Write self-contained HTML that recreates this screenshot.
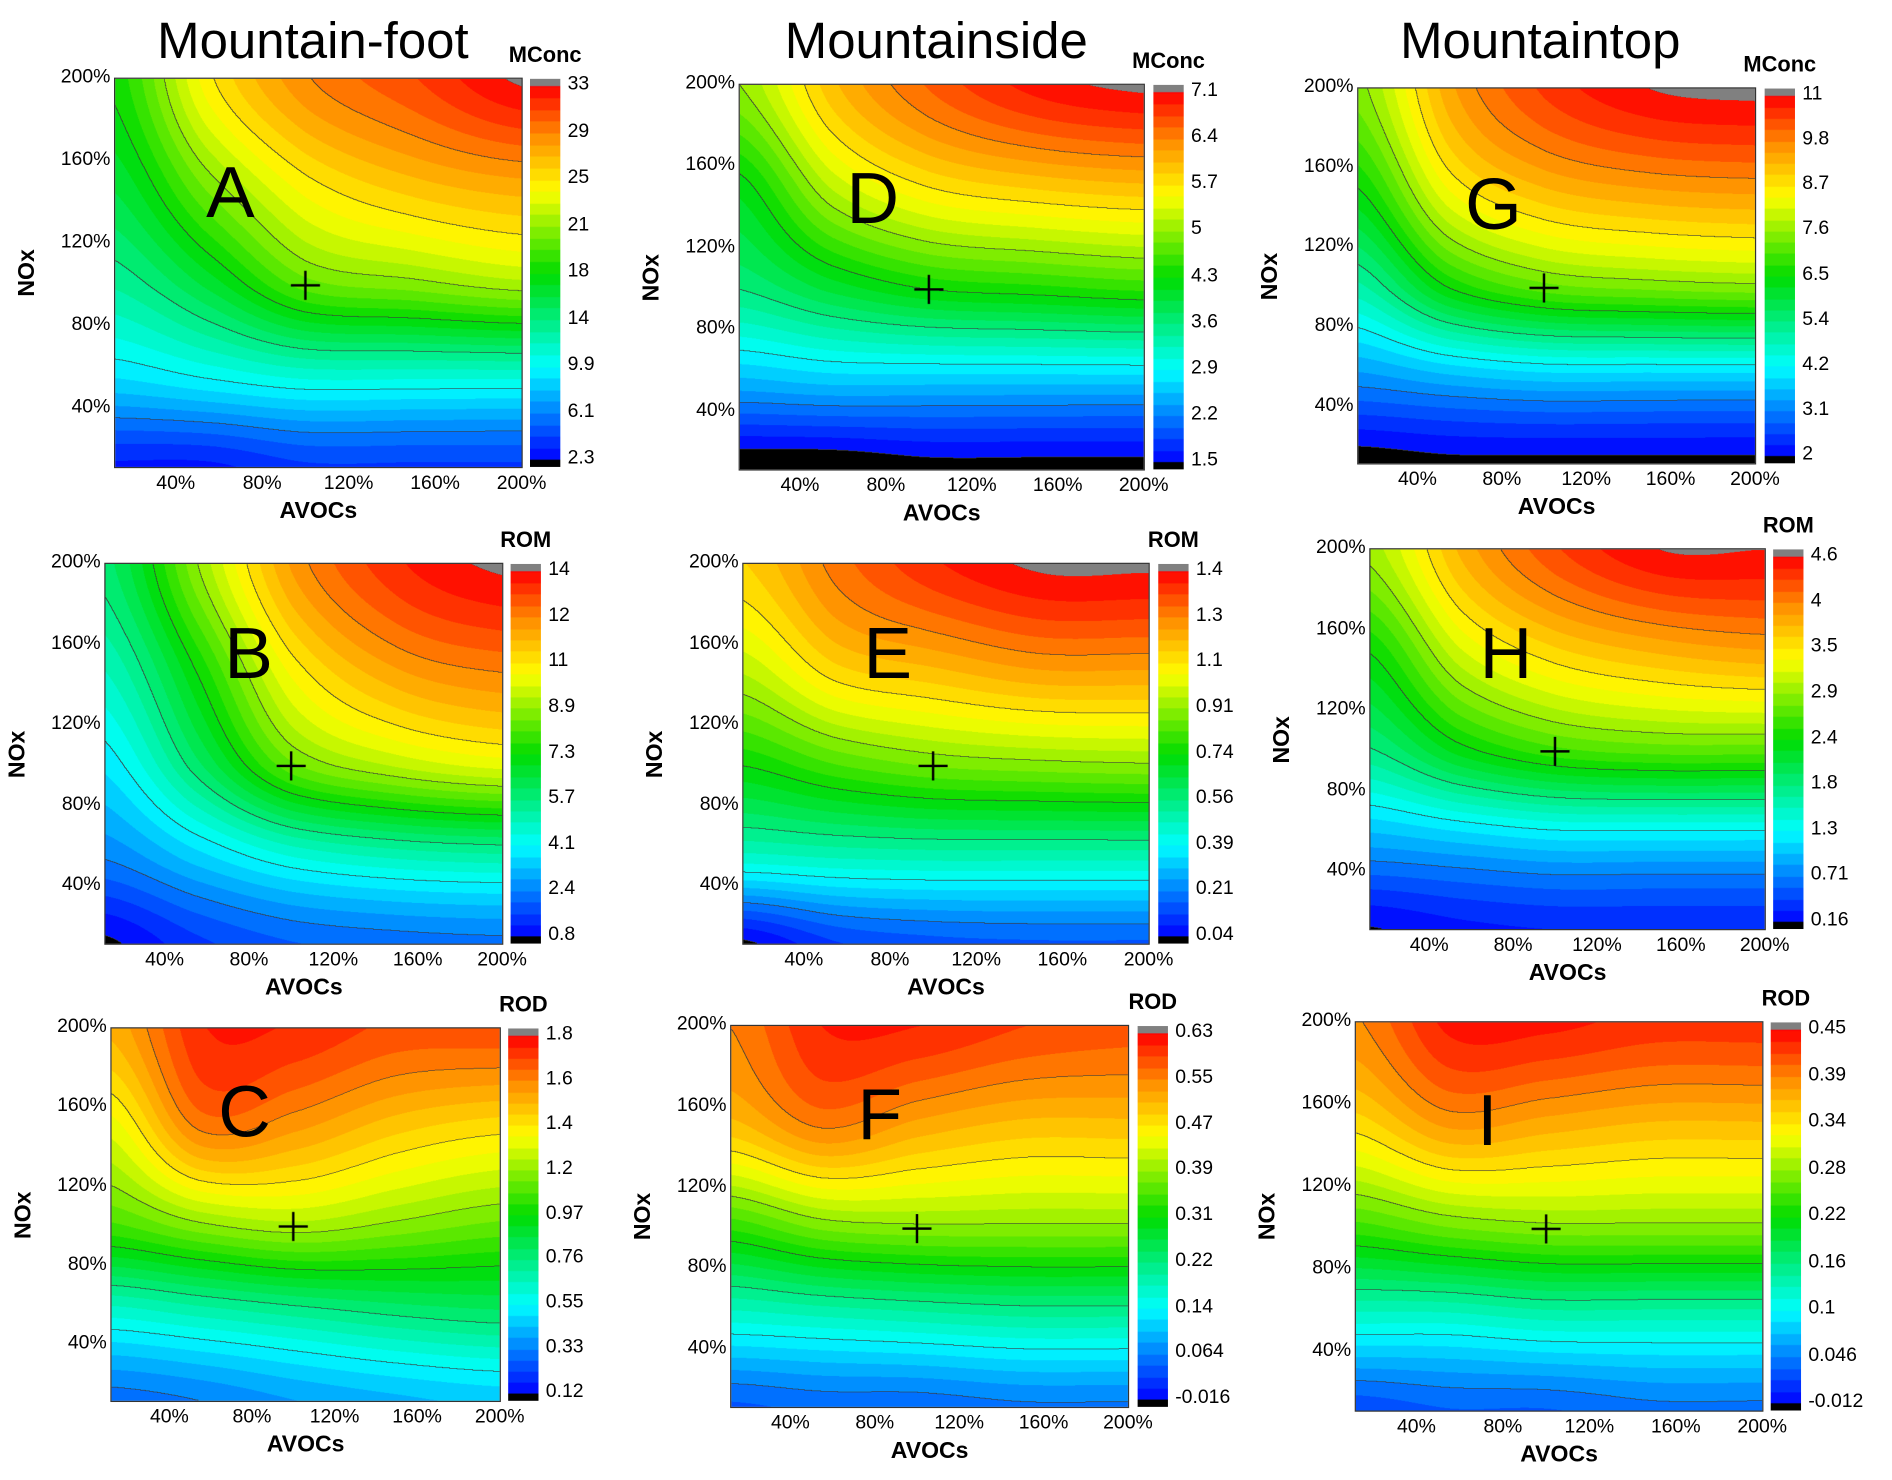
<!DOCTYPE html>
<html><head><meta charset="utf-8">
<style>
html,body{margin:0;padding:0;background:#fff;overflow:hidden;width:1892px;height:1479px}
#root{position:absolute;left:0;top:0;width:1560px;height:1220px;transform:scale(1.21282);transform-origin:0 0;font-family:"Liberation Sans",Arial,sans-serif}
.t{position:absolute;white-space:nowrap;color:#000}
canvas{position:absolute}
</style></head>
<body><div id="root"></div>
<script>
// grid coordinates (% of base emissions)
const gridX=[12,55,100,150,200];
const gridY=[12,55,100,150,200];
const xTicks=["40%","80%","120%","160%","200%"];
const xTickVals=[40,80,120,160,200];
const yTicks=["40%","80%","120%","160%","200%"];
// values rows: y=12,55,100,150,200 ; cols: x=12..200
const valsA=[[3,3,4,4,4],[9,10,11,11,11],[13,16,20,21,22],[16,21,25,27,28],[18,25,29,31,33.2]];
const valsD=[[1.3,1.3,1.4,1.4,1.4],[2.5,2.6,2.6,2.6,2.6],[3.6,4.0,4.3,4.4,4.5],[4.2,5.2,5.7,5.9,6.0],[5.0,6.0,6.6,7.0,7.15]];
const valsG=[[1.8,1.9,1.9,1.9,1.9],[3.3,3.6,3.8,3.8,3.8],[5,6.5,7.2,7.4,7.5],[6.5,8.5,9.3,9.6,9.7],[7.5,9.5,10.5,11,11.1]];
const valsB=[[0.7,1.5,2,2.2,2.3],[2.5,3.5,4.5,5,5.2],[3.8,6,8.5,9.5,10],[5,7.5,10.5,12,12.5],[6,9,12,13.5,14.1]];
const valsE=[[0.03,0.12,0.15,0.16,0.16],[0.45,0.47,0.48,0.48,0.48],[0.72,0.8,0.85,0.87,0.88],[0.95,1.1,1.15,1.2,1.2],[1.1,1.25,1.35,1.41,1.41]];
const valsH=[[0.15,0.25,0.3,0.3,0.3],[0.9,1.0,1.1,1.1,1.1],[1.8,2.3,2.6,2.7,2.7],[2.4,3.2,3.6,3.8,3.9],[3.0,3.8,4.3,4.6,4.6]];
const valsC=[[0.3,0.33,0.38,0.42,0.45],[0.6,0.65,0.7,0.75,0.78],[1.05,1.15,1.2,1.15,1.1],[1.3,1.6,1.55,1.45,1.4],[1.5,1.74,1.74,1.68,1.68]];
const valsF=[[0.04,0.05,0.05,0.06,0.06],[0.17,0.18,0.19,0.2,0.2],[0.33,0.37,0.38,0.38,0.38],[0.5,0.55,0.52,0.5,0.5],[0.55,0.61,0.61,0.59,0.58]];
const valsI=[[0.02,0.03,0.03,0.04,0.04],[0.12,0.12,0.13,0.13,0.13],[0.24,0.26,0.27,0.27,0.27],[0.34,0.38,0.37,0.36,0.36],[0.39,0.44,0.44,0.43,0.43]];
const cbA=["2.3","6.1","9.9","14","18","21","25","29","33"];
const cbD=["1.5","2.2","2.9","3.6","4.3","5","5.7","6.4","7.1"];
const cbG=["2","3.1","4.2","5.4","6.5","7.6","8.7","9.8","11"];
const cbB=["0.8","2.4","4.1","5.7","7.3","8.9","11","12","14"];
const cbE=["0.04","0.21","0.39","0.56","0.74","0.91","1.1","1.3","1.4"];
const cbH=["0.16","0.71","1.3","1.8","2.4","2.9","3.5","4","4.6"];
const cbC=["0.12","0.33","0.55","0.76","0.97","1.2","1.4","1.6","1.8"];
const cbF=["-0.016","0.064","0.14","0.22","0.31","0.39","0.47","0.55","0.63"];
const cbI=["-0.012","0.046","0.1","0.16","0.22","0.28","0.34","0.39","0.45"];

const panels=[
 {id:"a",x1:95,y1:65,x2:430,y2:385,cb:437,vals:valsA,cbl:cbA,min:2.3,max:33,var:"MConc",letter:"A",lx:170,ly:160},
 {id:"d",x1:610,y1:70,x2:943,y2:387,cb:951,vals:valsD,cbl:cbD,min:1.5,max:7.1,var:"MConc",letter:"D",lx:698,ly:165},
 {id:"g",x1:1120,y1:73,x2:1447,y2:382,cb:1455,vals:valsG,cbl:cbG,min:2,max:11,var:"MConc",letter:"G",lx:1208,ly:170},
 {id:"b",x1:87,y1:465,x2:414,y2:778,cb:421,vals:valsB,cbl:cbB,min:0.8,max:14,var:"ROM",letter:"B",lx:185,ly:540},
 {id:"e",x1:613,y1:465,x2:947,y2:778,cb:955,vals:valsE,cbl:cbE,min:0.04,max:1.4,var:"ROM",letter:"E",lx:712,ly:540},
 {id:"h",x1:1130,y1:453,x2:1455,y2:766,cb:1462,vals:valsH,cbl:cbH,min:0.16,max:4.6,var:"ROM",letter:"H",lx:1220,ly:540},
 {id:"c",x1:92,y1:848,x2:412,y2:1155,cb:419,vals:valsC,cbl:cbC,min:0.12,max:1.8,var:"ROD",letter:"C",lx:180,ly:918},
 {id:"f",x1:603,y1:846,x2:930,y2:1160,cb:938,vals:valsF,cbl:cbF,min:-0.016,max:0.63,var:"ROD",letter:"F",lx:707,ly:920},
 {id:"i",x1:1118,y1:843,x2:1453,y2:1163,cb:1460,vals:valsI,cbl:cbI,min:-0.012,max:0.45,var:"ROD",letter:"I",lx:1218,ly:925}
];
const titles=[["Mountain-foot",258],["Mountainside",772],["Mountaintop",1270]];
const root=document.getElementById('root');
function txt(s,x,y,size,opts){const d=document.createElement('div');d.className='t';d.textContent=s;d.style.left=x+'px';d.style.top=y+'px';d.style.fontSize=size+'px';if(opts){for(const k in opts)d.style[k]=opts[k];}root.appendChild(d);return d;}
function cmap(t){const st=[[0,0,0,255],[0.25,0,255,255],[0.5,0,220,0],[0.72,255,255,0],[0.87,255,140,0],[1,255,0,0]];
 t=Math.max(0,Math.min(1,t));for(let i=1;i<st.length;i++){if(t<=st[i][0]){const a=st[i-1],b=st[i],f=(t-a[0])/(b[0]-a[0]);return [a[1]+(b[1]-a[1])*f,a[2]+(b[2]-a[2])*f,a[3]+(b[3]-a[3])*f];}}return [255,0,0];}
function fidx(v,g){if(v<=g[0])return 0;for(let i=1;i<g.length;i++){if(v<=g[i])return i-1+(v-g[i-1])/(g[i]-g[i-1]);}return g.length-1;}
function cr(p0,p1,p2,p3,t){return 0.5*(2*p1+(-p0+p2)*t+(2*p0-5*p1+4*p2-p3)*t*t+(-p0+3*p1-3*p2+p3)*t*t*t);}
function row(a,fx){const n=a.length,i=Math.min(Math.floor(fx),n-2),t=fx-i;const g=k=>a[Math.max(0,Math.min(n-1,k))];return cr(g(i-1),g(i),g(i+1),g(i+2),t);}
function field(vals,x,y){const fx=fidx(x,gridX),fy=fidx(y,gridY);const r=vals.map(rw=>row(rw,fx));return row(r,fy);}
titles.forEach(([s,cx])=>{const d=txt(s,cx,10,42);d.style.transform='translateX(-50%)';});
const D0=12,D1=200;
panels.forEach(p=>{
 const w=p.x2-p.x1,h=p.y2-p.y1,S=2;
 const step=(p.max-p.min)/8,band=step/4;
 const cv=document.createElement('canvas');cv.width=w*S;cv.height=h*S;
 cv.style.left=p.x1+'px';cv.style.top=p.y1+'px';cv.style.width=w+'px';cv.style.height=h+'px';cv.style.outline='1px solid #333';
 
 
 root.appendChild(cv);
 const ctx=cv.getContext('2d');const W=w*S,H=h*S;const im=ctx.createImageData(W,H);
 const V=new Float32Array(W*H);
 for(let j=0;j<H;j++)for(let i=0;i<W;i++){const xv=D0+(i/W)*(D1-D0),yv=D1-(j/H)*(D1-D0);V[j*W+i]=field(p.vals,xv,yv);}
 for(let j=0;j<H;j++)for(let i=0;i<W;i++){const v=V[j*W+i];let c;
  if(v<p.min)c=[0,0,0];else if(v>p.max)c=[128,128,128];
  else{const q=(Math.floor((v-p.min)/band)+0.5)*band;c=cmap(q/(p.max-p.min));
   const l=Math.floor((v-p.min)/step);let edge=false;
   if(i+1<W&&Math.floor((V[j*W+i+1]-p.min)/step)!==l)edge=true;
   if(j+1<H&&Math.floor((V[(j+1)*W+i]-p.min)/step)!==l)edge=true;
   if(edge)c=[60,60,60];}
  const k=(j*W+i)*4;im.data[k]=c[0];im.data[k+1]=c[1];im.data[k+2]=c[2];im.data[k+3]=255;}
 ctx.putImageData(im,0,0);
 const sx=v=>p.x1+(v-D0)/(D1-D0)*w, sy=v=>p.y2-(v-D0)/(D1-D0)*h;
 const cx=sx(100),cy=sy(100);
 ctx.strokeStyle='#000';ctx.lineWidth=2*S;ctx.beginPath();
 ctx.moveTo((cx-p.x1-12)*S,(cy-p.y1)*S);ctx.lineTo((cx-p.x1+12)*S,(cy-p.y1)*S);
 ctx.moveTo((cx-p.x1)*S,(cy-p.y1-12)*S);ctx.lineTo((cx-p.x1)*S,(cy-p.y1+12)*S);ctx.stroke();
 xTickVals.forEach((v,k)=>{const d=txt(xTicks[k],sx(v),p.y2+5,16);d.style.transform='translateX(-50%)';
  });
 xTickVals.forEach((v,k)=>{const d=txt(yTicks[k],p.x1-4,sy(v)-10,16);d.style.transform='translateX(-100%)';
  });
 const ax=txt("AVOCs",(p.x1+p.x2)/2,p.y2+26,19,{fontWeight:'bold'});ax.style.transform='translateX(-50%)';
 
 const ay=txt("NOx",p.x1-72,(p.y1+p.y2)/2,19,{fontWeight:'bold'});ay.style.transform='translate(-50%,-50%) rotate(-90deg)';
 
 const lt=txt(p.letter,p.lx,p.ly-36,60);
 const cb=document.createElement('canvas');const cw=25;cb.width=cw;cb.height=h;
 cb.style.left=p.cb+'px';cb.style.top=p.y1+'px';cb.style.width=cw+'px';cb.style.height=h+'px';
 
 
 root.appendChild(cb);const c2=cb.getContext('2d');
 const top=6,bot=h-6;c2.fillStyle='#808080';c2.fillRect(0,0,cw,top);c2.fillStyle='#000';c2.fillRect(0,bot,cw,h-bot);
 for(let y=top;y<bot;y++){const t=(bot-y)/(bot-top);const q=(Math.floor(t*32)+0.5)/32;const c=cmap(q);c2.fillStyle=`rgb(${c[0]|0},${c[1]|0},${c[2]|0})`;c2.fillRect(0,y,cw,1);}
 p.cbl.forEach((s,k)=>{const y=p.y1+bot-(k/8)*(bot-top);const d=txt(s,p.cb+cw+6,y-10,16);
  });
 const vt=txt(p.var,p.cb+cw/2,p.y1-30,18,{fontWeight:'bold'});vt.style.transform='translateX(-50%)';
 
});
</script></body></html>
